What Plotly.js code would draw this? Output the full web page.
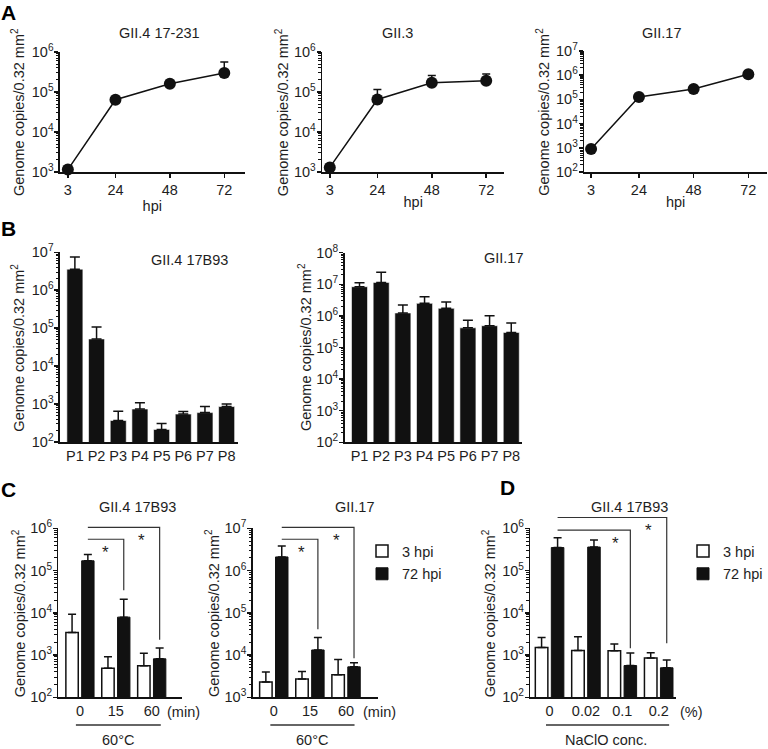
<!DOCTYPE html>
<html><head><meta charset="utf-8">
<script src="https://cdn.plot.ly/plotly-3.0.1.min.js"></script>
<style>html,body{margin:0;padding:0;background:#fff}#chart{width:768px;height:749px}</style>
</head><body><div id="chart"></div>
<script>
// ---------------- DATA ----------------
const A_hpi = [3, 24, 48, 72];
const A_titles = ['GII.4 17-231', 'GII.3', 'GII.17'];
const A1_mean = [1.15e3, 6.4e4, 1.6e5, 3.0e5];
const A1_errTop = [1.15e3, 6.4e4, 1.6e5, 5.6e5];
const A2_mean = [1.3e3, 6.5e4, 1.7e5, 1.9e5];
const A2_errTop = [1.3e3, 1.15e5, 2.6e5, 2.8e5];
const A3_mean = [900, 1.25e5, 2.7e5, 1.1e6];
const A3_errTop = [1.0e3, 1.35e5, 2.9e5, 1.5e6];

const B_passages = ['P1', 'P2', 'P3', 'P4', 'P5', 'P6', 'P7', 'P8'];
const B_titles = ['GII.4 17B93', 'GII.17'];
const B1_mean = [3.6e6, 5.2e4, 370, 740, 215, 545, 595, 860];
const B1_errTop = [7.5e6, 1.07e5, 650, 1.08e3, 308, 635, 865, 1.0e3];
const B2_mean = [8.4e6, 1.15e7, 1.24e6, 2.5e6, 1.74e6, 4.2e5, 4.9e5, 3.0e5];
const B2_errTop = [1.12e7, 2.4e7, 2.2e6, 4.0e6, 2.75e6, 7.3e5, 1.02e6, 6.0e5];

const C_min = ['0', '15', '60'];
const C_titles = ['GII.4 17B93', 'GII.17'];
const C1_3hpi = [3.4e3, 490, 560];
const C1_3hpi_errTop = [9.3e3, 910, 1.11e3];
const C1_72hpi = [1.7e5, 7.9e3, 815];
const C1_72hpi_errTop = [2.4e5, 2.1e4, 1.46e3];
const C2_3hpi = [2.3e3, 2.7e3, 3.4e3];
const C2_3hpi_errTop = [3.95e3, 4.1e3, 7.8e3];
const C2_72hpi = [2.1e6, 1.32e4, 5.25e3];
const C2_72hpi_errTop = [3.8e6, 2.6e4, 6.6e3];

const D_conc = ['0', '0.02', '0.1', '0.2'];
const D_title = 'GII.4 17B93';
const D_3hpi = [1.5e3, 1.28e3, 1.26e3, 850];
const D_3hpi_errTop = [2.6e3, 2.7e3, 1.82e3, 1.14e3];
const D_72hpi = [3.5e5, 3.6e5, 565, 500];
const D_72hpi_errTop = [6.0e5, 5.3e5, 1.12e3, 765];

const series = ['3 hpi', '72 hpi'];
// significance brackets: from/to = group index (72 hpi bars), top/bottom values, star = x in group units
const C1_brackets = [{from: 0, to: 2, top: 1.05e6, bottom: 2.3e3, star: 1.72}, {from: 0, to: 1, top: 5.5e5, bottom: 3.4e4, star: 0.72}];
const C2_brackets = [{from: 0, to: 2, top: 1.05e7, bottom: 8.4e3, star: 1.74}, {from: 0, to: 1, top: 5.5e6, bottom: 4.1e4, star: 0.76}];
const D_brackets = [{from: 0, to: 3, top: 1.8e6, bottom: 1.9e3, star: 2.72}, {from: 0, to: 2, top: 9.1e5, bottom: 1.45e3, star: 1.8}];

const YTITLE = 'Genome copies/0.32 mm<sup>2</sup>';

// ---------------- STYLE / LAYOUT ----------------
const W = 768, H = 749;
const FONT = 'Liberation Sans, Arial, sans-serif';
const INK = '#111';
const TXT = '#1e1e1e';
const px = v => v / W;
const py = v => 1 - v / H;

// subplot boxes in px: [left, right], [top, bottom], log range, y-title x position
const boxes = {
  1: {x: [60, 245], y: [52, 172], r: [3, 6], tx: 18},
  2: {x: [322.5, 505], y: [52, 172], r: [3, 6], tx: 282.5},
  3: {x: [585, 768], y: [51, 172], r: [2, 7], tx: 543},
  4: {x: [60, 238], y: [252.3, 442], r: [2, 7], tx: 18.5},
  5: {x: [345, 523], y: [252.7, 442.3], r: [2, 8], tx: 305},
  6: {x: [58.5, 182.5], y: [528.3, 697.3], r: [2, 6], tx: 18.5},
  7: {x: [253, 378], y: [528.3, 697.3], r: [3, 7], tx: 212.5},
  8: {x: [531, 676.7], y: [528.3, 697.3], r: [2, 6], tx: 489}
};
const xr = {
  1: [-0.5, 81], 2: [-0.4, 80], 3: [0, 80.2],
  4: [-0.69, 7.51], 5: [-0.69, 7.51],
  6: [-0.6, 2.85], 7: [-0.585, 2.87], 8: [-0.53, 3.47]
};

function decadeTicks(r) {
  const vals = [], text = [], minor = [];
  for (let k = r[0]; k <= r[1]; k++) {
    vals.push(Math.pow(10, k));
    text.push('10<sup>' + k + '</sup>');
    if (k < r[1]) for (let m = 2; m <= 9; m++) minor.push(m * Math.pow(10, k));
  }
  return {vals, text, minor};
}

const layout = {
  width: W, height: H,
  margin: {l: 0, r: 0, t: 0, b: 0},
  paper_bgcolor: '#fff', plot_bgcolor: 'rgba(0,0,0,0)',
  font: {family: FONT, size: 14, color: TXT},
  barmode: 'overlay',
  showlegend: true,
  annotations: [], shapes: []
};

function ann(text, x, y, opts) {
  layout.annotations.push(Object.assign({text, x: px(x), y: py(y), xref: 'paper', yref: 'paper',
    showarrow: false, xanchor: 'center', yanchor: 'middle', font: {size: 14.5, color: TXT}}, opts || {}));
}

for (let n = 1; n <= 8; n++) {
  const b = boxes[n];
  const t = decadeTicks(b.r);
  const sfx = n === 1 ? '' : n;
  layout['xaxis' + sfx] = {
    domain: [px(b.x[0]), px(b.x[1])], anchor: 'y' + sfx, range: xr[n],
    showline: true, linecolor: INK, linewidth: 1.5, showgrid: false, zeroline: false,
    ticks: n <= 3 ? 'outside' : '', ticklen: 4, tickwidth: 1.5, tickcolor: INK,
    tickfont: {size: 14.5, color: TXT}, fixedrange: true
  };
  layout['yaxis' + sfx] = {
    domain: [py(b.y[1]), py(b.y[0])], anchor: 'x' + sfx, type: 'log', range: b.r,
    showline: true, linecolor: INK, linewidth: 1.5, showgrid: false, zeroline: false,
    ticks: 'outside', ticklen: 4, tickwidth: 1.5, tickcolor: INK,
    tickmode: 'array', tickvals: t.vals, ticktext: t.text,
    minor: {tickmode: 'array', tickvals: t.minor, ticks: 'outside', ticklen: 2.5, tickwidth: 1, tickcolor: INK, showgrid: false},
    tickfont: {size: 14.5, color: TXT},
    ticklabelstandoff: -2,
    fixedrange: true
  };
  // y-axis title, centred on the axis
  ann(YTITLE, b.tx, (b.y[0] + b.y[1]) / 2, {textangle: -90});
}
// x tick config
[1, 2, 3].forEach(n => {
  const a = layout['xaxis' + (n === 1 ? '' : n)];
  a.tickmode = 'array'; a.tickvals = A_hpi; a.ticktext = A_hpi.map(String);
  a.title = {text: 'hpi', font: {size: 14.5, color: TXT}, standoff: 0};
});
[4, 5].forEach(n => {
  const a = layout['xaxis' + n];
  a.tickmode = 'array'; a.tickvals = B_passages.map((_, i) => i); a.ticktext = B_passages;
});
[6, 7].forEach(n => {
  const a = layout['xaxis' + n];
  a.tickmode = 'array'; a.tickvals = C_min.map((_, i) => i); a.ticktext = C_min;
});
layout.xaxis8.tickmode = 'array';
layout.xaxis8.tickvals = D_conc.map((_, i) => i);
layout.xaxis8.ticktext = D_conc;

// ---------------- TRACES ----------------
const traces = [];
function up(mean, top) { return top.map((t, i) => Math.max(0, t - mean[i])); }
function zeros(a) { return a.map(() => 0); }

[[A1_mean, A1_errTop], [A2_mean, A2_errTop], [A3_mean, A3_errTop]].forEach((d, i) => {
  const s = i === 0 ? '' : (i + 1);
  traces.push({
    type: 'scatter', mode: 'lines+markers', x: A_hpi, y: d[0],
    xaxis: 'x' + s, yaxis: 'y' + s, showlegend: false, cliponaxis: false,
    line: {color: INK, width: 1.5}, marker: {size: 12, color: INK},
    error_y: {type: 'data', symmetric: false, array: up(d[0], d[1]), arrayminus: zeros(d[0]), color: INK, thickness: 1.5, width: 4}
  });
});

[[B1_mean, B1_errTop, 4], [B2_mean, B2_errTop, 5]].forEach(d => {
  traces.push({
    type: 'bar', x: B_passages.map((_, i) => i), y: d[0], width: 0.74,
    xaxis: 'x' + d[2], yaxis: 'y' + d[2], showlegend: false,
    marker: {color: INK, line: {color: '#fff', width: 0.6}},
    error_y: {type: 'data', symmetric: false, array: up(d[0], d[1]), arrayminus: zeros(d[0]), color: INK, thickness: 1.5, width: 5}
  });
});

function pairBars(cats, white, whiteTop, black, blackTop, n, leg, show) {
  const idx = cats.map((_, i) => i);
  traces.push({
    type: 'bar', name: series[0], x: idx.map(i => i - 0.22), y: white, width: 0.345,
    xaxis: 'x' + n, yaxis: 'y' + n, legend: leg, showlegend: show, legendgroup: leg + 'a',
    marker: {color: '#fff', line: {color: INK, width: 1.5}},
    error_y: {type: 'data', symmetric: false, array: up(white, whiteTop), arrayminus: zeros(white), color: INK, thickness: 1.5, width: 4}
  });
  traces.push({
    type: 'bar', name: series[1], x: idx.map(i => i + 0.22), y: black, width: 0.345,
    xaxis: 'x' + n, yaxis: 'y' + n, legend: leg, showlegend: show, legendgroup: leg + 'b',
    marker: {color: INK, line: {color: INK, width: 1}},
    error_y: {type: 'data', symmetric: false, array: up(black, blackTop), arrayminus: zeros(black), color: INK, thickness: 1.5, width: 4}
  });
}
pairBars(C_min, C1_3hpi, C1_3hpi_errTop, C1_72hpi, C1_72hpi_errTop, 6, 'legend', true);
pairBars(C_min, C2_3hpi, C2_3hpi_errTop, C2_72hpi, C2_72hpi_errTop, 7, 'legend', false);
pairBars(D_conc, D_3hpi, D_3hpi_errTop, D_72hpi, D_72hpi_errTop, 8, 'legend2', true);

// legends
const legBase = {xanchor: 'left', yanchor: 'top', font: {size: 14.5, color: TXT}, bgcolor: 'rgba(0,0,0,0)',
  borderwidth: 0, tracegroupgap: 1, traceorder: 'grouped', itemclick: false, itemdoubleclick: false};
layout.legend = Object.assign({}, legBase, {x: px(362), y: py(535)});
layout.legend2 = Object.assign({}, legBase, {x: px(684), y: py(535)});

// ---------------- ANNOTATIONS / SHAPES ----------------
// panel letters
[['A', 9, 13], ['B', 9, 228], ['C', 9, 490], ['D', 508, 487]].forEach(l =>
  ann('<b>' + l[0] + '</b>', l[1], l[2], {font: {size: 21, color: '#000'}}));
// subplot titles
ann(A_titles[0], 160, 33); ann(A_titles[1], 398, 33); ann(A_titles[2], 663, 33);
ann(B_titles[0], 190, 260); ann(B_titles[1], 505, 258);
ann(C_titles[0], 138, 507); ann(C_titles[1], 355, 507); ann(D_title, 630, 507);
// unit labels and group labels
ann('(min)', 184, 712); ann('(min)', 380, 712); ann('(%)', 692, 712);
ann('60°C', 118, 740); ann('60°C', 312, 740); ann('NaClO conc.', 607, 740);
[[76, 161], [270.7, 355], [546.7, 670]].forEach(s => layout.shapes.push({
  type: 'line', xref: 'paper', yref: 'paper', x0: px(s[0]), x1: px(s[1]), y0: py(725), y1: py(725),
  line: {color: '#333', width: 1.5}
}));

// brackets + stars
function brackets(list, n) {
  const r = boxes[n].r;
  const f = v => (Math.log10(v) - r[0]) / (r[1] - r[0]);
  list.forEach(b => {
    const x0 = b.from + 0.22, x1 = b.to + 0.22;
    layout.shapes.push({
      type: 'path', xref: 'x' + n, yref: 'y' + n + ' domain',
      path: `M${x0},${f(b.top)} L${x1},${f(b.top)} L${x1},${f(b.bottom)}`,
      line: {color: '#333', width: 1.2}
    });
    layout.annotations.push({
      text: '*', x: b.star, y: f(b.top), xref: 'x' + n, yref: 'y' + n + ' domain',
      showarrow: false, xanchor: 'center', yanchor: 'middle', yshift: -13,
      font: {size: 17, color: TXT}
    });
  });
}
brackets(C1_brackets, 6); brackets(C2_brackets, 7); brackets(D_brackets, 8);

Plotly.newPlot('chart', traces, layout, {staticPlot: true, displayModeBar: false});
</script></body></html>
